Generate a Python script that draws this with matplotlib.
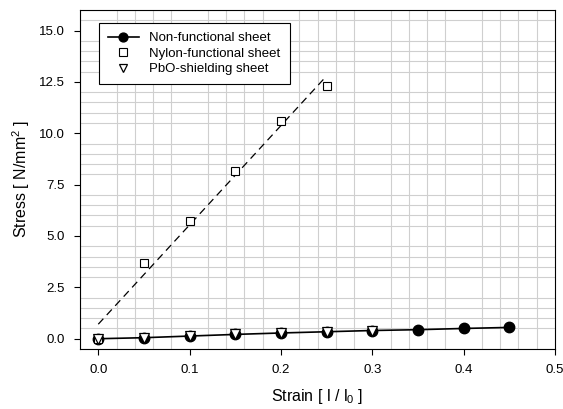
import numpy as np
import matplotlib
matplotlib.use("Agg")
import matplotlib.pyplot as plt

plt.rcParams['font.family'] = ['Liberation Sans', 'DejaVu Sans']
plt.rcParams['mathtext.fontset'] = 'custom'
plt.rcParams['mathtext.rm'] = 'Liberation Sans'
plt.rcParams['mathtext.it'] = 'Liberation Sans'

# data
strain_non = [0.0, 0.05, 0.10, 0.15, 0.20, 0.25, 0.30, 0.35, 0.40, 0.45]
stress_non = [0.0, 0.05, 0.13, 0.21, 0.28, 0.34, 0.40, 0.44, 0.50, 0.55]

strain_nylon = [0.0, 0.05, 0.10, 0.15, 0.20, 0.25]
stress_nylon = [0.0, 3.7, 5.75, 8.15, 10.6, 12.3]

strain_pbo = [0.0, 0.05, 0.10, 0.15, 0.20, 0.25, 0.30]
stress_pbo = [0.0, 0.05, 0.13, 0.21, 0.28, 0.34, 0.40]

xticks = [0.0, 0.1, 0.2, 0.3, 0.4, 0.5]
yticks = [0.0, 2.5, 5.0, 7.5, 10.0, 12.5, 15.0]

fig = plt.figure(figsize=(5.63, 4.09), dpi=100)
ax = fig.add_axes([80/563, 1-349/409, 475/563, 339/409])

# grid
ax.set_xticks(np.arange(-0.02, 0.501, 0.02), minor=True)
ax.set_yticks(np.arange(-0.5, 16.01, 0.5), minor=True)
ax.grid(which='minor', color='#cfcfcf', linewidth=0.8)
ax.tick_params(which='minor', length=0)
ax.set_axisbelow(True)

# nylon regression (dashed)
k, b = np.polyfit(strain_nylon, stress_nylon, 1)
xf = np.array([0.0, 0.25])
ax.plot(xf, k*xf + b, 'k--', linewidth=0.9, dashes=(6, 4))

ax.plot(strain_non, stress_non, 'k-', marker='o', markersize=7.5, linewidth=1.2,
        label='Non-functional sheet', zorder=3)
ax.plot(strain_nylon, stress_nylon, 's', markersize=6, markerfacecolor='white',
        markeredgecolor='k', markeredgewidth=0.8, linestyle='none',
        label='Nylon-functional sheet', zorder=4)
ax.plot(strain_pbo, stress_pbo, 'v', markersize=7, markerfacecolor='white',
        markeredgecolor='k', markeredgewidth=0.9, linestyle='none',
        label='PbO-shielding sheet', zorder=5)

ax.set_xlim(-0.02, 0.5)
ax.set_ylim(-0.5, 16)
ax.set_xticks(xticks)
ax.set_xticklabels(['0.0', '0.1', '0.2', '0.3', '0.4', '0.5'])
ax.set_yticks(yticks)
ax.set_yticklabels(['%.1f' % v for v in yticks])
ax.tick_params(which='major', direction='out', length=4, labelsize=9.5, pad=7)

ax.set_xlabel('Strain [ l / l$_0$ ]', fontsize=11.5, labelpad=8)
ax.set_ylabel('Stress [ N/mm$^2$ ]', fontsize=11.5, labelpad=5)

leg = ax.legend(loc='upper left', bbox_to_anchor=(0.04, 0.9625), fontsize=9.5,
                frameon=True, fancybox=False, edgecolor='k', framealpha=1,
                handlelength=2.3, borderpad=0.7, labelspacing=0.25,
                borderaxespad=0, markerscale=0.85)
leg.get_frame().set_linewidth(0.8)

fig.savefig('out.png', dpi=100)
